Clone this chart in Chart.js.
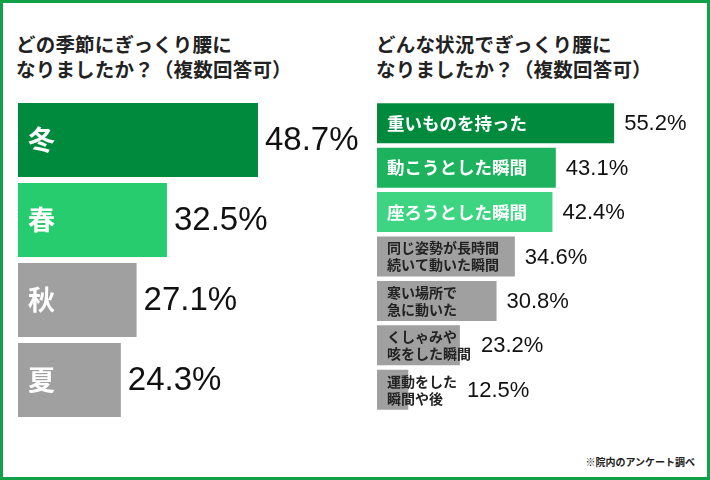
<!DOCTYPE html>
<html lang="ja">
<head>
<meta charset="UTF-8">
<title>ぎっくり腰アンケート</title>
<script src="https://cdn.jsdelivr.net/npm/chart.js"></script>
<style>
  html, body { margin: 0; padding: 0; background: #fff; }
  #frame {
    position: relative; width: 710px; height: 480px;
    box-sizing: border-box; border: 3px solid #12a04a; overflow: hidden;
    font-family: "Noto Sans CJK JP", sans-serif; color: #222;
  }
  .title {
    position: absolute; top: 28px; font-size: 19.5px; font-weight: 700;
    line-height: 25px; letter-spacing: 0.2px;
  }
  .note {
    position: absolute; right: 12px; top: 451px; font-size: 10px; font-weight: 700;
  }
  canvas { position: absolute; }
</style>
</head>
<body>
<div id="frame">
  <div class="title" style="left:13px">どの季節にぎっくり腰に<br>なりましたか？（複数回答可）</div>
  <div class="title" style="left:373px">どんな状況でぎっくり腰に<br>なりましたか？（複数回答可）</div>
  <canvas id="seasonChart"></canvas>
  <canvas id="situationChart"></canvas>
  <div class="note">※院内のアンケート調べ</div>
</div>

<script>
// 季節
const seasonLabels = ['冬', '春', '秋', '夏'];
const seasonValues = [48.7, 32.5, 27.1, 24.3];

// 状況
const situationLabels = [
    '重いものを持った',
    '動こうとした瞬間',
    '座ろうとした瞬間',
    ['同じ姿勢が長時間', '続いて動いた瞬間'],
    ['寒い場所で', '急に動いた'],
    ['くしゃみや', '咳をした瞬間'],
    ['運動をした', '瞬間や後']
];
const situationValues = [55.2, 43.1, 42.4, 34.6, 30.8, 23.2, 12.5];

const GRAY = '#a0a0a0';

// draws the category text inside each bar and the percentage after it
const barText = {
    id: 'barText',
    afterDatasetsDraw(chart, args, opts) {
        const ctx = chart.ctx;
        const meta = chart.getDatasetMeta(0);
        const values = chart.data.datasets[0].data;
        const left = chart.chartArea.left;
        ctx.save();
        ctx.textBaseline = 'middle';
        meta.data.forEach((bar, i) => {
            const lines = [].concat(chart.data.labels[i]);
            const multi = lines.length > 1;
            ctx.font = 'bold ' + (multi ? opts.smallSize : opts.labelSize) + 'px "Noto Sans CJK JP"';
            ctx.fillStyle = multi ? '#222' : opts.labelColor;
            ctx.textAlign = 'left';
            let textEnd = 0;
            lines.forEach((ln, j) => {
                const y = bar.y + (j - (lines.length - 1) / 2) * opts.lineGap;
                ctx.fillText(ln, left + opts.pad, y);
                textEnd = Math.max(textEnd, left + opts.pad + ctx.measureText(ln).width);
            });
            const vx = Math.max(bar.x, multi ? textEnd : 0) + opts.valueGap;
            ctx.font = opts.valueSize + 'px "Liberation Sans", Arial, sans-serif';
            ctx.fillStyle = '#111';
            ctx.fillText(values[i].toFixed(1) + '%', vx, bar.y + 1);
        });
        ctx.restore();
    }
};

const makeChart = (id, box, labels, values, colors, xMin, xMax, barPct, text) => {
    const canvas = document.getElementById(id);
    canvas.style.left = box.x + 'px';
    canvas.style.top = box.y + 'px';
    canvas.width = box.w;
    canvas.height = box.h;
    canvas.style.width = box.w + 'px';
    canvas.style.height = box.h + 'px';
    return new Chart(canvas.getContext('2d'), {
        type: 'bar',
        data: {
            labels: labels,
            datasets: [{
                data: values,
                backgroundColor: colors,
                borderWidth: 0,
                barPercentage: barPct,
                categoryPercentage: 1
            }]
        },
        options: {
            indexAxis: 'y',
            responsive: false,
            animation: false,
            layout: { padding: 0 },
            scales: {
                x: { display: false, min: xMin, max: xMax },
                y: { display: false }
            },
            plugins: {
                legend: { display: false },
                tooltip: { enabled: false },
                barText: text
            }
        },
        plugins: [barText]
    });
};

makeChart('seasonChart', { x: 15, y: 97, w: 342, h: 320 },
    seasonLabels, seasonValues,
    ['#008a3e', '#27cc6f', GRAY, GRAY],
    6, 66.85, 0.925,
    { pad: 10, labelSize: 27, smallSize: 14, lineGap: 17, labelColor: '#fff', valueGap: 7, valueSize: 33 });

makeChart('situationChart', { x: 374, y: 98, w: 328, h: 311 },
    situationLabels, situationValues,
    ['#008a3e', '#1db35e', '#3dd582', GRAY, GRAY, GRAY, GRAY],
    6, 74.05, 0.9,
    { pad: 10, labelSize: 17.5, smallSize: 14, lineGap: 17, labelColor: '#fff', valueGap: 10, valueSize: 22 });
</script>
</body>
</html>
